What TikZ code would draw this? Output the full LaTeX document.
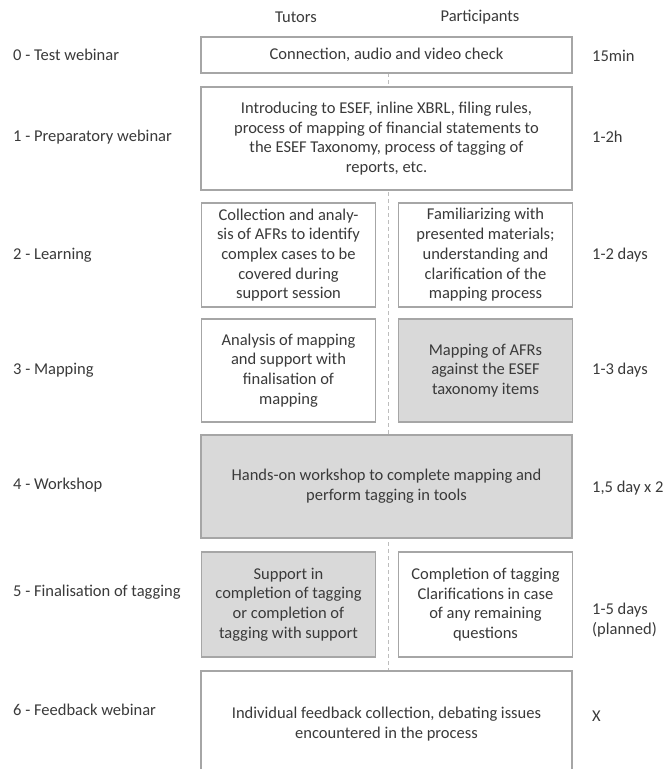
\documentclass[tikz,border=0pt]{standalone}
\usepackage{fontspec}
\setmainfont{Carlito}
\definecolor{txt}{HTML}{3A3A3A}
\definecolor{bord}{HTML}{A6A6A6}
\definecolor{shade}{HTML}{D9D9D9}
\definecolor{dashc}{HTML}{BDBDBD}
\begin{document}
\begin{tikzpicture}[x=1pt,y=-1pt,
  every node/.style={text=txt, font=\fontsize{16.5}{19.7}\selectfont},
  box/.style={draw=bord, line width=1.6pt, fill=white, align=center, inner sep=0pt},
  wide/.style={box, minimum width=371pt},
  half/.style={box, minimum width=174pt},
  grey/.style={fill=shade},
  lbl/.style={anchor=west, inner sep=0pt},
  dur/.style={anchor=west, inner sep=0pt, align=left},
  sep/.style={draw=dashc, line width=1pt, dash pattern=on 4pt off 3pt}
]
\clip (0,0) rectangle (665,769);
\fill[white] (0,0) rectangle (665,769);

% dashed divider behind the boxes
\coordinate (dtop) at (388,73);
\coordinate (dbot) at (388,671);
\draw[sep] (dtop) -- (dbot);

% column headers
\node (tut) at (296,17) {Tutors};
\node (par) at (480,17) {Participants};

% boxes
\node[wide, minimum height=36pt] (b0) at (386.5,55) {Connection, audio and video check};
\node[wide, minimum height=103pt] (b1) at (386.5,138.5) {Introducing to ESEF, inline XBRL, filing rules,\\process of mapping of financial statements to\\the ESEF Taxonomy, process of tagging of\\reports, etc.};
\node[half, minimum height=104pt] (b2l) at (288.5,255) {Collection and analy-\\sis of AFRs to identify\\complex cases to be\\covered during\\support session};
\node[half, minimum height=104pt] (b2r) at (485.5,255) {Familiarizing with\\presented materials;\\understanding and\\clarification of the\\mapping process};
\node[half, minimum height=103pt] (b3l) at (288.5,370.5) {Analysis of mapping\\and support with\\finalisation of\\mapping};
\node[half, grey, minimum height=103pt] (b3r) at (485.5,370.5) {Mapping of AFRs\\against the ESEF\\taxonomy items};
\node[wide, grey, minimum height=103pt] (b4) at (386.5,486.5) {Hands-on workshop to complete mapping and\\perform tagging in tools};
\node[half, grey, minimum height=105pt] (b5l) at (288.5,604.5) {Support in\\completion of tagging\\or completion of\\tagging with support};
\node[half, minimum height=105pt] (b5r) at (485.5,604.5) {Completion of tagging\\Clarifications in case\\of any remaining\\questions};
\node[wide, minimum height=106pt] (b6) at (386.5,724) {Individual feedback collection, debating issues\\encountered in the process};

% step labels
\node[lbl] (l0) at (13,55) {0 - Test webinar};
\node[lbl] (l1) at (13,137) {1 - Preparatory webinar};
\node[lbl] (l2) at (13,255) {2 - Learning};
\node[lbl] (l3) at (13,370) {3 - Mapping};
\node[lbl] (l4) at (13,485) {4 - Workshop};
\node[lbl] (l5) at (13,592) {5 - Finalisation of tagging};
\node[lbl] (l6) at (13,710) {6 - Feedback webinar};

% durations
\node[dur] (d0) at (592,56) {15min};
\node[dur] (d1) at (592,137) {1-2h};
\node[dur] (d2) at (592,255) {1-2 days};
\node[dur] (d3) at (592,370) {1-3 days};
\node[dur] (d4) at (592,488) {1,5 day x 2};
\node[dur] (d5) at (592,620) {1-5 days\\(planned)};
\node[dur] (d6) at (592,716) {X};
\end{tikzpicture}
\end{document}
